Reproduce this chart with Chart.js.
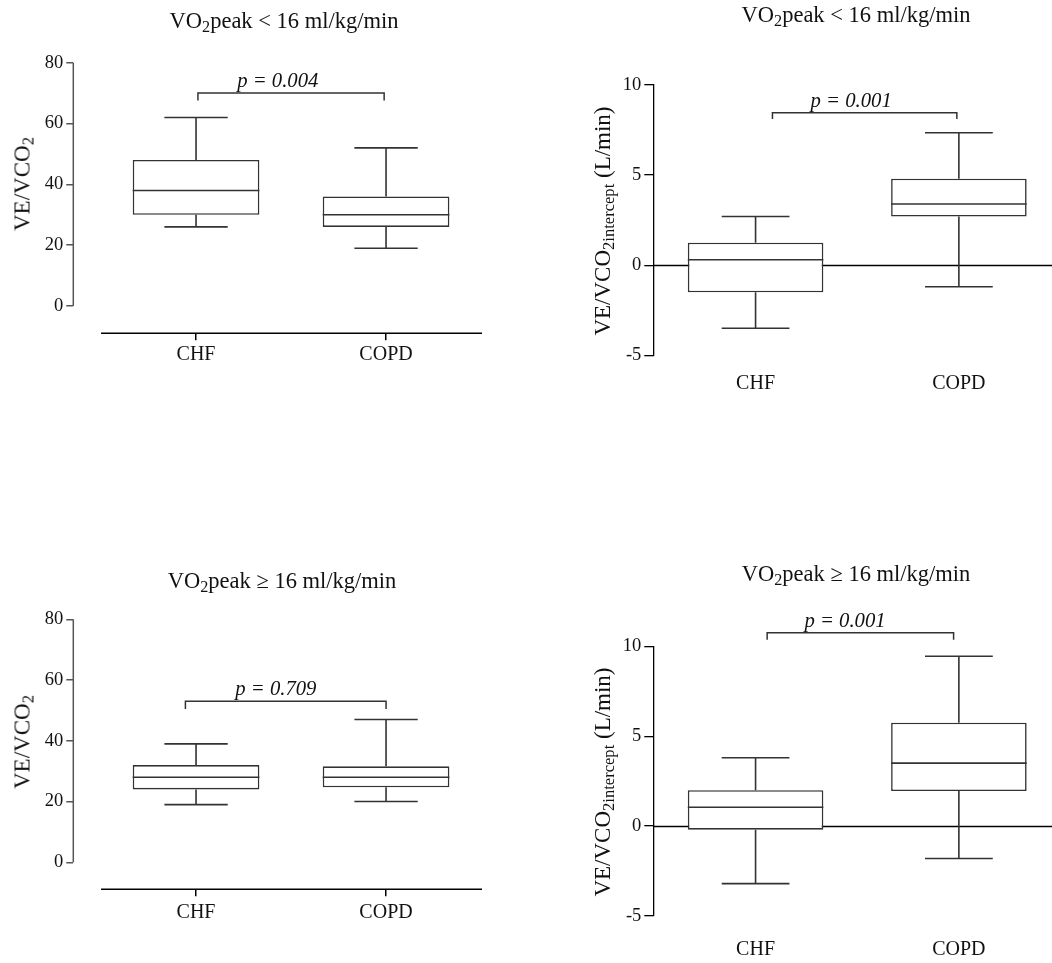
<!DOCTYPE html>
<html><head><meta charset="utf-8">
<script src="https://cdn.jsdelivr.net/npm/chart.js@4.4.1/dist/chart.umd.min.js"></script>
<style>
html,body{margin:0;padding:0;background:#fff;}
body{width:1052px;height:963px;position:relative;overflow:hidden;font-family:"Liberation Serif","Times New Roman",serif;color:#111;}
canvas{position:absolute;}
.t{position:absolute;white-space:nowrap;font-size:22.5px;line-height:1;transform:translate(-50%,-50%);}
.yt{position:absolute;white-space:nowrap;font-size:23px;line-height:1;transform:translate(-50%,-50%) rotate(-90deg);}
sub{font-size:72%;vertical-align:-0.25em;line-height:0;}
</style></head><body>
<canvas id="cA" width="526" height="480" style="left:0;top:0"></canvas>
<canvas id="cB" width="526" height="480" style="left:526px;top:0"></canvas>
<canvas id="cC" width="526" height="483" style="left:0;top:480px"></canvas>
<canvas id="cD" width="526" height="483" style="left:526px;top:480px"></canvas>

<div class="t" style="left:284px;top:21px">VO<sub>2</sub>peak &lt; 16 ml/kg/min</div>
<div class="t" style="left:856px;top:15px">VO<sub>2</sub>peak &lt; 16 ml/kg/min</div>
<div class="t" style="left:282px;top:581px">VO<sub>2</sub>peak ≥ 16 ml/kg/min</div>
<div class="t" style="left:856px;top:574px">VO<sub>2</sub>peak ≥ 16 ml/kg/min</div>

<div class="yt" style="left:22px;top:184px">VE/VCO<sub>2</sub></div>
<div class="yt" style="left:22px;top:742px">VE/VCO<sub>2</sub></div>
<div class="yt" style="left:602px;top:221px">VE/VCO<sub>2intercept</sub> (L/min)</div>
<div class="yt" style="left:602px;top:782px">VE/VCO<sub>2intercept</sub> (L/min)</div>

<script>
// ---------- data ----------
const groups = ['CHF', 'COPD'];
const groupPos = [1, 2];

// Panel A: VE/VCO2, VO2peak < 16
const aMin = [26, 19];
const aQ1  = [30, 26];
const aMed = [38, 30];
const aQ3  = [48, 36];
const aMax = [62, 52];
const aP = 'p = 0.004';

// Panel B: VE/VCO2 intercept, VO2peak < 16
const bMin = [-3.5, -1.2];
const bQ1  = [-1.5, 2.7];
const bMed = [0.3, 3.4];
const bQ3  = [1.25, 4.8];
const bMax = [2.7, 7.35];
const bP = 'p = 0.001';

// Panel C: VE/VCO2, VO2peak >= 16
const cMin = [19, 20];
const cQ1  = [24, 24.7];
const cMed = [28, 28];
const cQ3  = [32, 31.6];
const cMax = [39, 47];
const cP = 'p = 0.709';

// Panel D: VE/VCO2 intercept, VO2peak >= 16
const dMin = [-3.2, -1.8];
const dQ1  = [-0.2, 1.95];
const dMed = [1.05, 3.5];
const dQ3  = [2.0, 5.75];
const dMax = [3.8, 9.45];
const dP = 'p = 0.001';

const ticksVE  = [0, 20, 40, 60, 80];
const ticksInt = [-5, 0, 5, 10];

// ---------- drawing ----------
const FONT = '"Liberation Serif","Times New Roman",serif';
const BOXC = '#333';

function makePlugin(cfg) {
  return {
    id: 'boxExtras',
    beforeDatasetsDraw(chart) {
      if (!cfg.zeroLine) return;
      const {ctx, chartArea, scales: {y}} = chart;
      ctx.save();
      ctx.strokeStyle = '#000'; ctx.lineWidth = 1.3;
      const py = Math.round(y.getPixelForValue(0)) + 0.5;
      ctx.beginPath(); ctx.moveTo(chartArea.left, py); ctx.lineTo(chartArea.right, py); ctx.stroke();
      ctx.restore();
    },
    afterDatasetsDraw(chart) {
      const {ctx, scales: {x, y}} = chart;
      const s = cfg.stats;
      ctx.save();
      ctx.strokeStyle = BOXC; ctx.lineWidth = 1.6;
      groupPos.forEach((g, i) => {
        const cx = x.getPixelForValue(g);
        const bl = x.getPixelForValue(g - 1/3), br = x.getPixelForValue(g + 1/3);
        const cl = x.getPixelForValue(g - 1/6), cr = x.getPixelForValue(g + 1/6);
        const yMed = y.getPixelForValue(s.med[i]);
        const yQ1 = y.getPixelForValue(s.q1[i]), yQ3 = y.getPixelForValue(s.q3[i]);
        const yMn = y.getPixelForValue(s.min[i]), yMx = y.getPixelForValue(s.max[i]);
        ctx.beginPath();
        ctx.moveTo(bl, yMed); ctx.lineTo(br, yMed);
        ctx.moveTo(cx, yQ3); ctx.lineTo(cx, yMx);
        ctx.moveTo(cl, yMx); ctx.lineTo(cr, yMx);
        ctx.moveTo(cx, yQ1); ctx.lineTo(cx, yMn);
        ctx.moveTo(cl, yMn); ctx.lineTo(cr, yMn);
        ctx.stroke();
      });
      ctx.restore();
    },
    afterDraw(chart) {
      const {ctx, chartArea, scales: {x, y}} = chart;
      ctx.save();
      if (cfg.leftStyle) {
        ctx.strokeStyle = '#555'; ctx.lineWidth = 1.5;
        const t0 = cfg.yTicks[0], t1 = cfg.yTicks[cfg.yTicks.length - 1];
        ctx.beginPath();
        ctx.moveTo(chartArea.left, y.getPixelForValue(t0));
        ctx.lineTo(chartArea.left, y.getPixelForValue(t1));
        ctx.stroke();
        ctx.strokeStyle = '#000'; ctx.lineWidth = 1.5;
        ctx.beginPath();
        ctx.moveTo(x.getPixelForValue(0.5), chartArea.bottom);
        ctx.lineTo(chartArea.right, chartArea.bottom);
        ctx.stroke();
      }
      const b = cfg.bracket;
      const x1 = x.getPixelForValue(b.x1), x2 = x.getPixelForValue(b.x2);
      const yb = y.getPixelForValue(b.y), yl = y.getPixelForValue(b.yLeg);
      ctx.strokeStyle = BOXC; ctx.lineWidth = 1.5;
      ctx.beginPath();
      ctx.moveTo(x1, yl); ctx.lineTo(x1, yb); ctx.lineTo(x2, yb); ctx.lineTo(x2, yl);
      ctx.stroke();
      ctx.fillStyle = '#111';
      ctx.font = 'italic 20.7px ' + FONT;
      ctx.textAlign = 'center'; ctx.textBaseline = 'alphabetic';
      ctx.fillText(b.text, x.getPixelForValue(b.textX), yb - 6);
      ctx.restore();
    }
  };
}

function makeChart(id, cfg) {
  const s = cfg.stats;
  const left = cfg.leftStyle;
  new Chart(document.getElementById(id), {
    type: 'bar',
    data: {
      datasets: [{
        data: groupPos.map((g, i) => ({x: g, y: [s.q1[i], s.q3[i]]})),
        backgroundColor: '#fff',
        borderColor: BOXC,
        borderWidth: 1.6,
        borderSkipped: false,
        barPercentage: 2/3,
        categoryPercentage: 1
      }]
    },
    options: {
      responsive: false,
      animation: false,
      devicePixelRatio: 1,
      layout: {padding: cfg.pad},
      plugins: {legend: {display: false}, tooltip: {enabled: false}, title: {display: false}},
      scales: {
        x: {
          type: 'linear', offset: false,
          min: cfg.xMin, max: cfg.xMax,
          afterBuildTicks: sc => { sc.ticks = groupPos.map(v => ({value: v})); },
          afterFit: sc => { sc.height = cfg.xHeight; },
          ticks: {
            callback: v => groups[groupPos.indexOf(v)],
            font: {family: FONT, size: 20}, color: '#111',
            padding: cfg.labelPad, maxRotation: 0, autoSkip: false
          },
          grid: left
            ? {display: true, offset: false, drawOnChartArea: false, drawTicks: true, tickLength: 7, color: '#000', lineWidth: 1.5}
            : {display: false, drawTicks: false, tickLength: 0, offset: false},
          border: {display: false}
        },
        y: {
          min: cfg.yMin, max: cfg.yMax,
          afterBuildTicks: sc => { sc.ticks = cfg.yTicks.map(v => ({value: v})); },
          afterFit: sc => { sc.width = cfg.yWidth; },
          ticks: {font: {family: FONT, size: 18.5}, color: '#111', padding: 3},
          grid: {display: true, drawOnChartArea: false, drawTicks: true,
                 tickLength: left ? 7 : 9, color: left ? '#555' : '#000', lineWidth: left ? 1.5 : 1.3},
          border: left ? {display: false} : {display: true, color: '#000', width: 1.3}
        }
      }
    },
    plugins: [makePlugin(cfg)]
  });
}

makeChart('cA', {
  stats: {min: aMin, q1: aQ1, med: aMed, q3: aQ3, max: aMax},
  yMin: -8.98, yMax: 80, yTicks: ticksVE,
  xMin: 0.354, xMax: 2.505, yWidth: 73.3, xHeight: 40,
  pad: {left: 0, top: 62.7, right: 44, bottom: 106.7},
  leftStyle: true, labelPad: 2,
  bracket: {x1: 1.01, x2: 1.99, y: 70, yLeg: 67.6, text: aP, textX: 1.43}
});
makeChart('cB', {
  stats: {min: bMin, q1: bQ1, med: bMed, q3: bQ3, max: bMax},
  yMin: -5, yMax: 10, yTicks: ticksInt,
  xMin: 0.497, xMax: 2.458, yWidth: 127.3, xHeight: 70,
  pad: {left: 0, top: 85, right: 0, bottom: 54.7},
  leftStyle: false, zeroLine: true, labelPad: 16.4,
  bracket: {x1: 1.083, x2: 1.99, y: 8.46, yLeg: 8.11, text: bP, textX: 1.47}
});
makeChart('cC', {
  stats: {min: cMin, q1: cQ1, med: cMed, q3: cQ3, max: cMax},
  yMin: -8.89, yMax: 80, yTicks: ticksVE,
  xMin: 0.354, xMax: 2.505, yWidth: 73.3, xHeight: 40,
  pad: {left: 0, top: 139.3, right: 44, bottom: 33.7},
  leftStyle: true, labelPad: 4,
  bracket: {x1: 0.944, x2: 2.0, y: 53, yLeg: 50.5, text: cP, textX: 1.42}
});
makeChart('cD', {
  stats: {min: dMin, q1: dQ1, med: dMed, q3: dQ3, max: dMax},
  yMin: -5, yMax: 10, yTicks: ticksInt,
  xMin: 0.497, xMax: 2.458, yWidth: 127.3, xHeight: 47,
  pad: {left: 0, top: 166.3, right: 0, bottom: 0},
  leftStyle: false, zeroLine: true, labelPad: 21.3,
  bracket: {x1: 1.057, x2: 1.974, y: 10.76, yLeg: 10.36, text: dP, textX: 1.44}
});
</script>
</body></html>
